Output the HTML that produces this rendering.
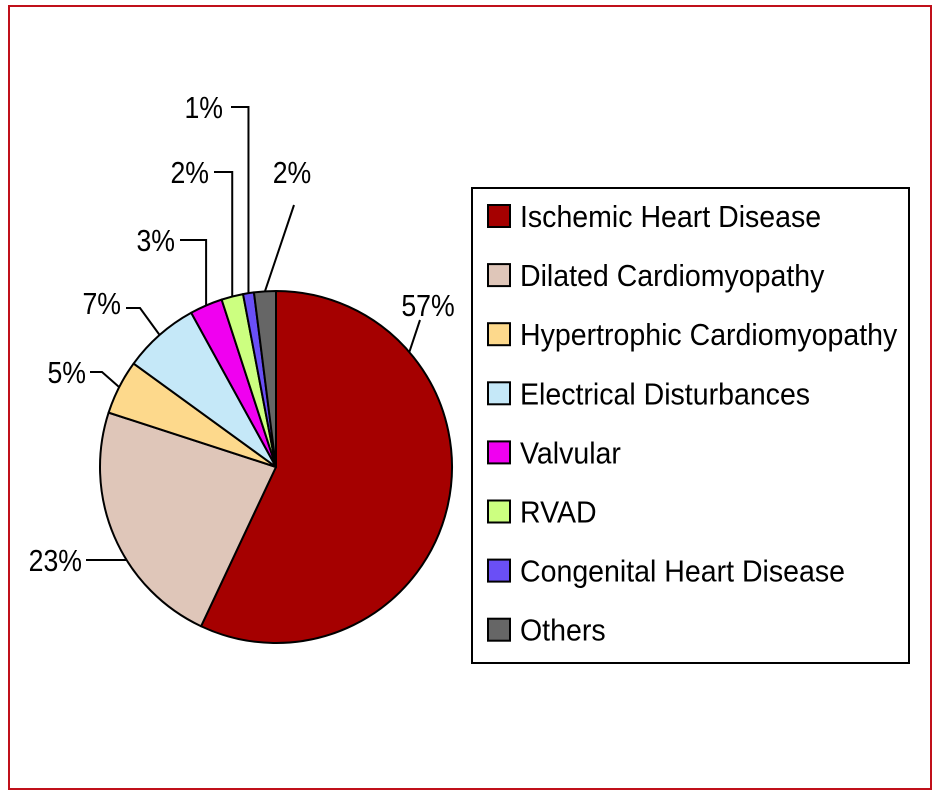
<!DOCTYPE html>
<html><head><meta charset="utf-8"><style>
html,body{margin:0;padding:0;background:#fff;}
svg{display:block;font-family:"Liberation Sans Narrow","Liberation Sans",sans-serif;}
</style></head><body>
<svg id="chart" width="941" height="799">
<rect x="9" y="6" width="922" height="783" fill="#fff" stroke="#c0101a" stroke-width="2"/>
<g id="pie"></g>
<g id="legend"></g>
</svg>
<script>
const categories = ["Ischemic Heart Disease","Dilated Cardiomyopathy","Hypertrophic Cardiomyopathy","Electrical Disturbances","Valvular","RVAD","Congenital Heart Disease","Others"];
const values = [57,23,5,7,3,2,1,2];
const valueLabels = ["57%","23%","5%","7%","3%","2%","1%","2%"];
const colors = ["#a50000","#dfc6b9","#fdd98c","#c5e8f8","#f000f0","#ccff80","#6a4ff6","#666666"];
// label layout: text anchor position and elbow point
const labelPos = [[428,305,"middle"],[82,560,"end"],[86,372,"end"],[121,303,"end"],[175,240,"end"],[209,172,"end"],[223,107,"end"],[292,172,"middle"]];
const elbows = [null,null,[102,372],[140,308],[205,240],[232,172],[247,107],[294,205]];
const starts = [null,[86,560],[90,372],[126,308],[180,240],[214,172],[231,107],null];

const NS="http://www.w3.org/2000/svg";
const cx=276, cy=467, r=176;
const total=values.reduce((a,b)=>a+b,0);
function pt(frac,rad){const a=frac*2*Math.PI;return [cx+rad*Math.sin(a), cy-rad*Math.cos(a)];}
function mk(tag,attrs,parent){const e=document.createElementNS(NS,tag);for(const k in attrs)e.setAttribute(k,attrs[k]);parent.appendChild(e);return e;}
function squeeze(t,f){const w=t.getComputedTextLength();t.setAttribute('textLength',w*f);t.setAttribute('lengthAdjust','spacingAndGlyphs');}
const pie=document.getElementById('pie');
let cum=0;
values.forEach((v,i)=>{
  const f0=cum/total, f1=(cum+v)/total; cum+=v;
  const p0=pt(f0,r), p1=pt(f1,r);
  const large=(f1-f0)>0.5?1:0;
  const s=mk('path',{d:`M${cx},${cy} L${p0[0]},${p0[1]} A${r},${r} 0 ${large} 1 ${p1[0]},${p1[1]} Z`,fill:colors[i],stroke:'#000','stroke-width':2,'stroke-linejoin':'round'},pie);
  
  
  const m=pt((f0+f1)/2,r);
  let pts;
  if(i===0){const q=pt(f0+(f1-f0)*0.24,r);pts=[q,[420,320]];}
  else if(i===1){const y=starts[1][1];const dy=y-cy;const x=cx-Math.sqrt(Math.max(0,r*r-dy*dy));pts=[starts[1],[x,y]];}
  else if(i===7){pts=[[m[0],m[1]],elbows[i]];}
  else{const el=elbows[i];const mid=[Math.abs(m[0]-el[0])<12?m[0]:el[0],el[1]];pts=[starts[i],mid,[m[0],m[1]]];}
  const l=mk('polyline',{points:pts.map(p=>p.join(',')).join(' '),fill:'none',stroke:'#000','stroke-width':2},pie);
  
  
  const lp=labelPos[i];
  const t=mk('text',{x:lp[0],y:lp[1]+11,'text-anchor':lp[2],'font-size':31,fill:'#000'},pie);
  t.textContent=valueLabels[i];
  
  
  squeeze(t,0.86);
});
const lg=document.getElementById('legend');
const box=mk('rect',{x:472,y:188,width:437,height:475,fill:'#fff',stroke:'#000','stroke-width':2},lg);


categories.forEach((c,i)=>{
  const y=216+i*59.1;
  const sw=mk('rect',{x:488,y:y-11,width:22,height:22,fill:colors[i],stroke:'#000','stroke-width':2},lg);
  
  
  const t=mk('text',{x:520,y:y+11,'font-size':31,fill:'#000'},lg);
  t.textContent=c;
  
  
  squeeze(t,0.92);
});
</script>
</body></html>
